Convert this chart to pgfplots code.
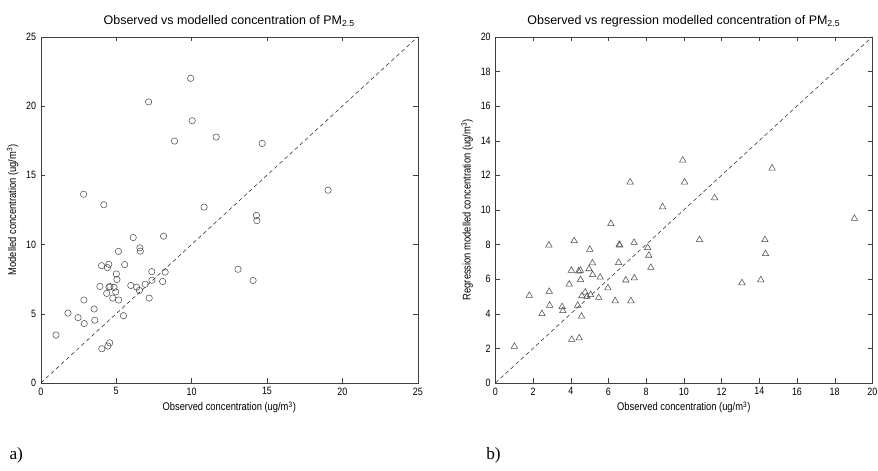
\documentclass[border=0pt]{standalone}
\usepackage{fontspec}
\setmainfont{Liberation Sans}
\newfontfamily\narrowsans[FakeStretch=0.84]{Liberation Sans}
\newfontfamily\serifabc{Liberation Serif}
\usepackage{pgfplots}
\usepackage{pgfplotstable}
\pgfplotsset{compat=1.18}

% observed, modelled, regression modelled (ug/m3)
\pgfplotstableread{
obs    mod    reg
1.01   3.46   2.11
1.80   5.05   5.05
2.47   4.72   4.00
2.84   13.63  7.96
2.86   5.99   5.28
2.88   4.29   4.48
3.54   5.34   4.40
3.58   4.53   4.17
3.92   6.97   5.70
4.03   8.47   6.50
4.05   2.47   2.51
4.18   12.87  8.21
4.37   6.47   4.48
4.42   8.33   6.46
4.45   2.67   2.59
4.51   8.57   6.50
4.52   6.92   5.96
4.57   2.90   3.85
4.59   6.96   5.03
4.77   6.13   5.24
4.86   6.90   4.99
4.97   6.58   6.59
5.01   7.87   7.71
5.05   7.47   5.10
5.15   9.50   6.93
5.16   5.99   6.25
5.48   4.86   4.93
5.56   8.55   6.10
5.97   7.04   5.49
6.13   10.50  9.20
6.36   6.92   4.74
6.54   6.68   6.95
6.57   9.76   8.00
6.60   9.52   7.95
6.92   7.13   5.94
7.15   20.30  11.60
7.19   6.13   4.74
7.36   8.04   8.11
7.37   7.42   6.06
8.08   7.33   7.81
8.14   10.60  7.37
8.25   8.01   6.67
8.87   17.47  10.17
9.94   22.00  12.87
10.04  18.94  11.60
10.83  12.70  8.27
11.63  17.76  10.69
13.08  8.21   5.78
14.08  7.40   5.95
14.30  12.10  8.27
14.33  11.72  7.46
14.68  17.30  12.41
19.05  13.92  9.50
}\pmdata

\pgfplotsset{
  mlab/.style={
    scale only axis,
    width=284.25pt, height=261pt,
    tick align=inside,
    major tick length=3.5pt,
    axis line style={black!75},
    tick style={black!75},
    /pgf/number format/assume math mode=true,
    tick label style={font=\narrowsans\fontsize{8}{9}\selectfont},
    label style={font=\narrowsans\fontsize{8.4}{9}\selectfont},
    title style={font=\fontsize{9.4}{10}\selectfont, yshift=-2pt},
    xlabel style={yshift=2pt},
    ylabel style={yshift=-1pt},
  },
}

\begin{document}
\begin{tikzpicture}
\begin{axis}[mlab,
    at={(30.75pt,66pt)}, anchor=south west,
    xmin=0, xmax=25, ymin=0, ymax=25,
    xtick={0,5,...,25}, ytick={0,5,...,25},
    title={Observed vs modelled concentration of PM\textsubscript{2.5}},
    xlabel={Observed concentration (ug/m\textsuperscript{3})},
    ylabel={Modelled concentration (ug/m\textsuperscript{3})},
  ]
  \addplot[black!85, dash pattern=on 3pt off 2.2pt] coordinates {(0,0) (25,25)};
  \addplot[only marks, mark=o, mark size=2.4pt, black!70] table[x=obs, y=mod] {\pmdata};
\end{axis}
\begin{axis}[mlab,
    at={(373.5pt,66pt)}, anchor=south west,
    xmin=0, xmax=20, ymin=0, ymax=20,
    xtick={0,2,...,20}, ytick={0,2,...,20},
    title={Observed vs regression modelled concentration of PM\textsubscript{2.5}},
    xlabel={Observed concentration (ug/m\textsuperscript{3})},
    ylabel={Regression modelled concentration (ug/m\textsuperscript{3})},
  ]
  \addplot[black!85, dash pattern=on 3pt off 2.2pt] coordinates {(0,0) (20,20)};
  \addplot[only marks, mark=triangle, mark size=2.8pt, black!70] table[x=obs, y=reg] {\pmdata};
\end{axis}
\node[anchor=base west, inner sep=0pt, font=\serifabc\fontsize{13}{14}\selectfont] at (7pt,8pt) {a)};
\node[anchor=base west, inner sep=0pt, font=\serifabc\fontsize{13}{14}\selectfont] at (366.5pt,8pt) {b)};
\pgfresetboundingbox
\path (0pt,0pt) rectangle (662pt,354.75pt);
\end{tikzpicture}
\end{document}
